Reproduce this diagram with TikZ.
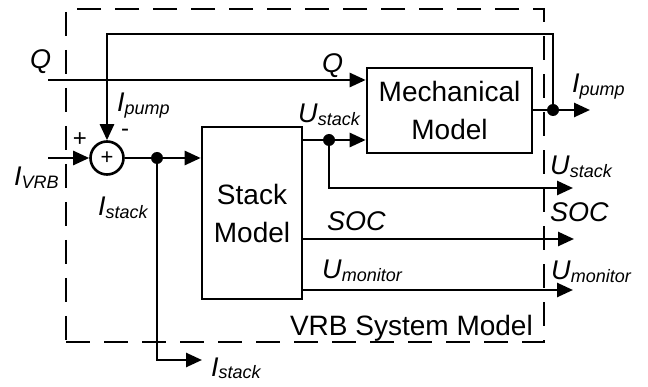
\documentclass[tikz,border=0pt]{standalone}
\usepackage{fontspec}
\setmainfont{Liberation Sans}
\usetikzlibrary{positioning, arrows.meta}

\newcommand{\sig}[2]{\textit{#1}\raisebox{-2.5pt}{\fontsize{18}{18}\selectfont\itshape #2}}

\begin{document}
\begin{tikzpicture}[
        x=1pt, y=-1pt,
        block/.style={draw, rectangle, line width=2.6pt, align=center, inner sep=0pt, font=\fontsize{28}{38}\selectfont},
        sum_node/.style={draw, circle, line width=2.6pt, minimum size=33pt, inner sep=0pt, font=\fontsize{22}{22}\selectfont},
        dot_junction/.style={circle, fill, minimum size=12pt, inner sep=0pt},
        wire/.style={line width=2.6pt},
        arrow/.style={-{Triangle[length=16pt, width=14pt]}, line width=2.6pt},
        sys_frame/.style={draw, rectangle, line width=2pt, dash pattern=on 24pt off 14pt},
        sig_label/.style={font=\fontsize{27}{27}\selectfont, inner sep=0pt, anchor=base west},
        sign_label/.style={font=\fontsize{24}{24}\selectfont, inner sep=0pt}
    ]
        \useasboundingbox (0,0) rectangle (648,387);

        % dashed system border
        \node[sys_frame, minimum width=478pt, minimum height=333pt] (system) at (305,175.5) {};
        \node[font=\fontsize{28}{28}\selectfont, inner sep=0pt, anchor=base east] (system_name) at (533,335) {VRB System Model};

        \node[sum_node] (sum) at (107,158) {+};
        \node[block, minimum width=100pt, minimum height=172pt] (stack_model) at (252,213) {Stack\\Model};
        \node[block, minimum width=165pt, minimum height=85pt] (mech_model) at (449.5,110.5) {Mechanical\\Model};

        \node[dot_junction] (j_istack) at (157,158) {};
        \node[dot_junction] (j_ustack) at (329,140) {};
        \node[dot_junction] (j_ipump) at (553,110) {};

        \coordinate (q_in) at (48,80);
        \coordinate (ivrb_in) at (48,158);
        \coordinate (fb_corner) at (553,34);
        \coordinate (ipump_out) at (590,110);
        \coordinate (ustack_out) at (573,188);
        \coordinate (soc_out) at (574,239);
        \coordinate (umon_out) at (573,290);
        \coordinate (istack_out) at (202,360);

        % connections
        \draw[arrow] (q_in) -- (mech_model.west |- q_in);
        \draw[arrow] (ivrb_in) -- (sum.west);
        \draw[wire] (sum.east) -- (j_istack.center);
        \draw[arrow] (j_istack.center) -- (stack_model.west |- j_istack);
        \draw[arrow] (j_istack.center) |- (istack_out);
        \draw[wire] (stack_model.east |- j_ustack) -- (j_ustack.center);
        \draw[arrow] (j_ustack.center) -- (mech_model.west |- j_ustack);
        \draw[arrow] (j_ustack.center) |- (ustack_out);
        \draw[arrow] (stack_model.east |- soc_out) -- (soc_out);
        \draw[arrow] (stack_model.east |- umon_out) -- (umon_out);
        \draw[wire] (mech_model.east |- j_ipump) -- (j_ipump.center);
        \draw[arrow] (j_ipump.center) -- (ipump_out);
        \draw[arrow] (j_ipump.center) -- (fb_corner) -| (sum.north);

        % signal names
        \node[sig_label] (q_left) at (30,69) {\textit{Q}};
        \node[sig_label] (q_mech) at (322,73) {\textit{Q}};
        \node[sig_label] (ipump_fb) at (117,112) {\sig{I}{pump}};
        \node[sig_label] (ivrb) at (14,186) {\sig{I}{VRB}};
        \node[sig_label] (istack_sum) at (98,216) {\sig{I}{stack}};
        \node[sig_label] (istack_bottom) at (211,376) {\sig{I}{stack}};
        \node[sig_label] (ustack_mech) at (298,123) {\sig{U}{stack}};
        \node[sig_label] (soc_inner) at (327,231) {\textit{SOC}};
        \node[sig_label] (umon_inner) at (322,279) {\sig{U}{monitor}};
        \node[sig_label] (ipump_right) at (572,93) {\sig{I}{pump}};
        \node[sig_label] (ustack_right) at (550,175) {\sig{U}{stack}};
        \node[sig_label] (soc_right) at (550,222) {\textit{SOC}};
        \node[sig_label] (umon_right) at (551,280) {\sig{U}{monitor}};

        \node[sign_label] (plus_sign) at (80,140) {+};
        \node[sign_label] (minus_sign) at (125,133) {-};

    \end{tikzpicture}
\end{document}
